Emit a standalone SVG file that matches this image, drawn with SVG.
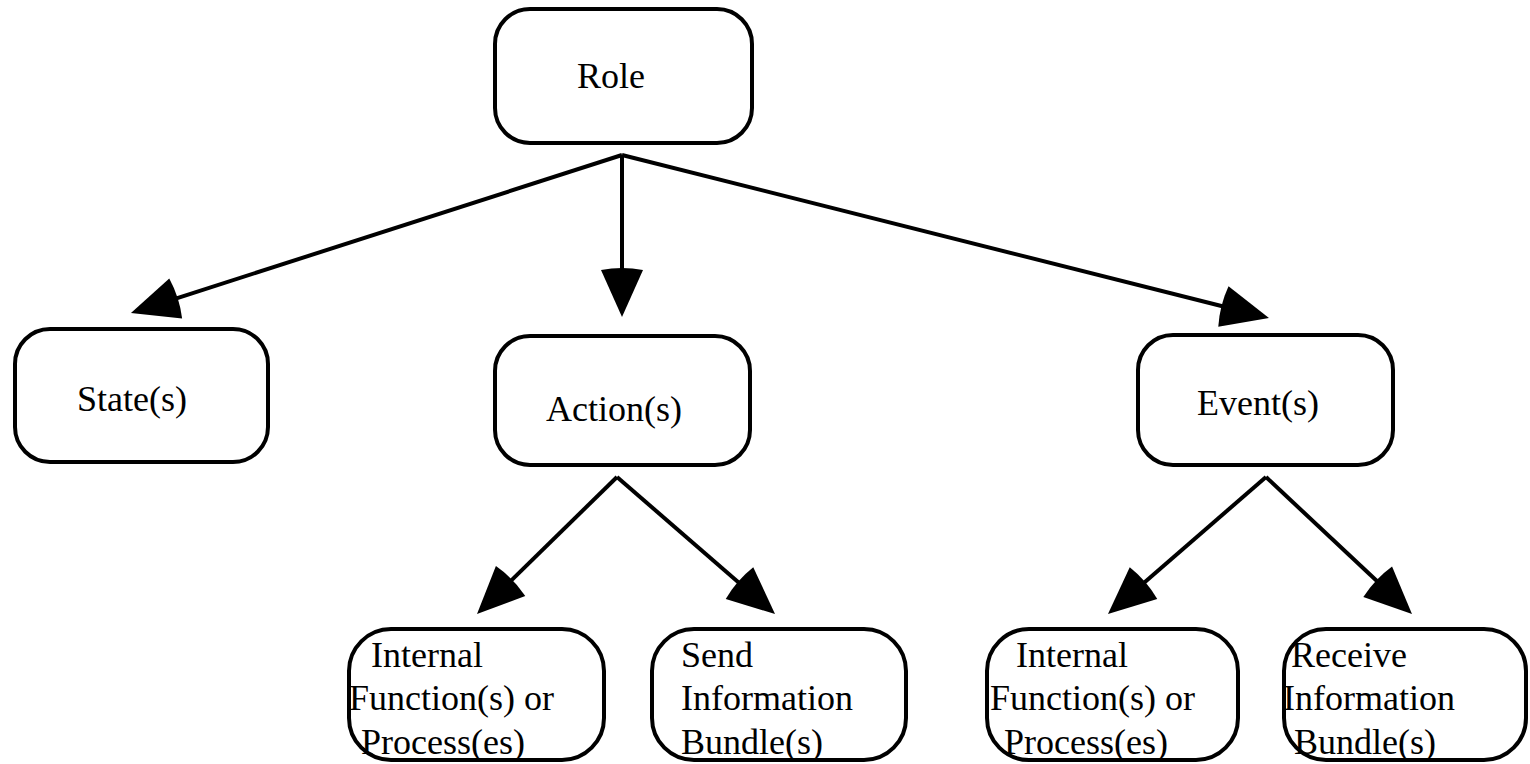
<svg xmlns="http://www.w3.org/2000/svg" width="1530" height="764" viewBox="0 0 1530 764">
<style>
.box{fill:#fff;stroke:#000;stroke-width:4}
.lbl{font-family:"Liberation Serif","Times New Roman",serif;font-size:36px;fill:#000}
.conn{stroke:#000;stroke-width:4;fill:none;marker-end:url(#ah)}
</style>
<defs>
<marker id="ah" markerUnits="userSpaceOnUse" viewBox="-1 -23 50 46" refX="0" refY="0" markerWidth="50" markerHeight="46" orient="auto" overflow="visible">
<path d="M0,-21 L47,0 L0,21 Q-4,0 0,-21 z" fill="#000"/>
</marker>
</defs>
<rect width="1530" height="764" fill="#fff"/>
<g id="connectors">
<line class="conn" x1="622" y1="155" x2="175.7" y2="298.6"/>
<line class="conn" x1="622" y1="155" x2="622" y2="270"/>
<line class="conn" x1="622" y1="155" x2="1223.4" y2="306.5"/>
<line class="conn" x1="617" y1="477" x2="510.6" y2="581.1"/>
<line class="conn" x1="617" y1="477" x2="739.5" y2="583.2"/>
<line class="conn" x1="1266" y1="477" x2="1143.5" y2="583.2"/>
<line class="conn" x1="1266" y1="477" x2="1377.7" y2="581.8"/>
</g>
<g id="role">
<rect class="box" x="495" y="9" width="257" height="134" rx="35"/>
<text class="lbl" x="577" y="88">Role</text>
</g>
<g id="state">
<rect class="box" x="15" y="329" width="253" height="133" rx="35"/>
<text class="lbl" x="77" y="411">State(s)</text>
</g>
<g id="action">
<rect class="box" x="495" y="336" width="255" height="129" rx="35"/>
<text class="lbl" x="546" y="421">Action(s)</text>
</g>
<g id="event">
<rect class="box" x="1138" y="335" width="255" height="130" rx="35"/>
<text class="lbl" x="1197" y="415">Event(s)</text>
</g>
<g id="internal1">
<rect class="box" x="349" y="629" width="255" height="131" rx="42"/>
<text class="lbl" x="371" y="667">Internal</text>
<text class="lbl" x="349" y="710">Function(s) or</text>
<text class="lbl" x="361" y="754">Process(es)</text>
</g>
<g id="send">
<rect class="box" x="652" y="629" width="254" height="131" rx="42"/>
<text class="lbl" x="681" y="667">Send</text>
<text class="lbl" x="681" y="710">Information</text>
<text class="lbl" x="681" y="754">Bundle(s)</text>
</g>
<g id="internal2">
<rect class="box" x="987" y="629" width="251" height="131" rx="42"/>
<text class="lbl" x="1016" y="667">Internal</text>
<text class="lbl" x="990" y="710">Function(s) or</text>
<text class="lbl" x="1004" y="754">Process(es)</text>
</g>
<g id="receive">
<rect class="box" x="1284" y="629" width="242" height="131" rx="42"/>
<text class="lbl" x="1291" y="667">Receive</text>
<text class="lbl" x="1283" y="710">Information</text>
<text class="lbl" x="1294" y="754">Bundle(s)</text>
</g>
</svg>
